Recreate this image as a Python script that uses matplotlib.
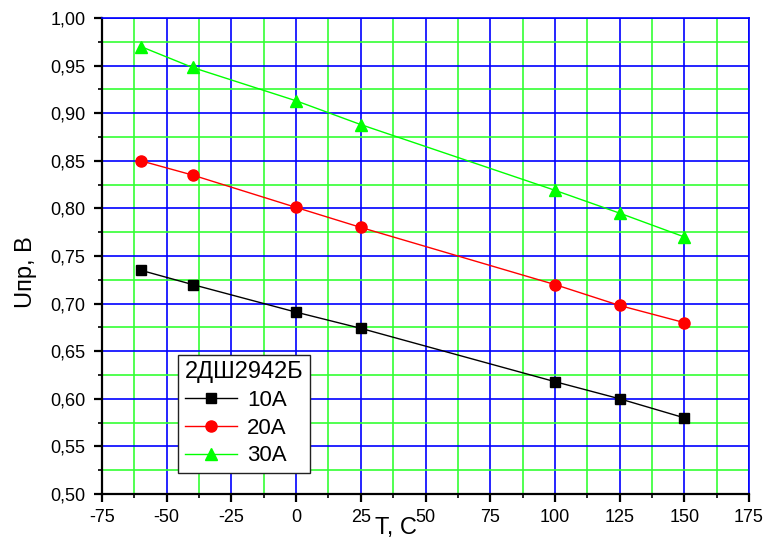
import matplotlib.pyplot as plt
from matplotlib.ticker import MultipleLocator, FuncFormatter

# temperature points, C
temps = [-60, -40, 0, 25, 100, 125, 150]
# forward voltage, V
u_10a = [0.735, 0.720, 0.691, 0.674, 0.618, 0.600, 0.580]
u_20a = [0.850, 0.835, 0.801, 0.780, 0.720, 0.698, 0.680]
u_30a = [0.970, 0.948, 0.913, 0.888, 0.819, 0.795, 0.770]

plt.rcParams['font.family'] = ['Liberation Sans', 'DejaVu Sans']
plt.rcParams['axes.unicode_minus'] = False

fig = plt.figure(figsize=(7.68, 5.4), dpi=100)
ax = fig.add_axes([0.1328, 0.0852, 0.8425, 0.8815])

ax.set_xlim(-75, 175)
ax.set_ylim(0.50, 1.00)
ax.xaxis.set_major_locator(MultipleLocator(25))
ax.xaxis.set_minor_locator(MultipleLocator(12.5))
ax.yaxis.set_major_locator(MultipleLocator(0.05))
ax.yaxis.set_minor_locator(MultipleLocator(0.025))
ax.yaxis.set_major_formatter(FuncFormatter(lambda v, p: f"{v:.2f}".replace('.', ',')))

ax.grid(True, which='minor', color='#33ff33', lw=1.2, zorder=0)
ax.grid(True, which='major', color='#0000ff', lw=1.2, zorder=0)
ax.set_axisbelow(True)

ax.plot(temps, u_10a, color='black', lw=1, marker='s', ms=7, label='10A')
ax.plot(temps, u_20a, color='red', lw=1, marker='o', ms=8, label='20A')
ax.plot(temps, u_30a, color='#00ff00', lw=1, marker='^', ms=9, label='30A')

for s in ['left', 'bottom']:
    ax.spines[s].set_linewidth(1.6)
for s in ['top', 'right']:
    ax.spines[s].set_color('#0000ff')
    ax.spines[s].set_linewidth(1.2)

ax.tick_params(which='major', direction='out', length=6, width=1.6, labelsize=13)
ax.tick_params(which='minor', direction='out', length=3, width=1.2)
ax.tick_params(axis='y', which='major', pad=6)
ax.tick_params(axis='x', which='major', pad=5)
ax.tick_params(top=False, right=False, which='both')

ax.set_xlabel('T, C', fontsize=17)
ax.xaxis.set_label_coords(0.4536, -0.083)
ax.xaxis.label.set_va('baseline')
ax.set_ylabel('Uпр, В', fontsize=17)
ax.yaxis.set_label_coords(-0.117, 0.466)
ax.yaxis.label.set_va('center')

leg = ax.legend(title='2ДШ2942Б', loc='lower left', bbox_to_anchor=(0.1175, 0.0441),
                borderaxespad=0, fontsize=16, title_fontsize=17, fancybox=False,
                framealpha=1, edgecolor='#222222', handlelength=2.35, handletextpad=0.45,
                labelspacing=0.3, borderpad=0.3)
leg._legend_box.align = 'left'
leg.get_frame().set_linewidth(1)

fig.savefig('out.png', dpi=100)
